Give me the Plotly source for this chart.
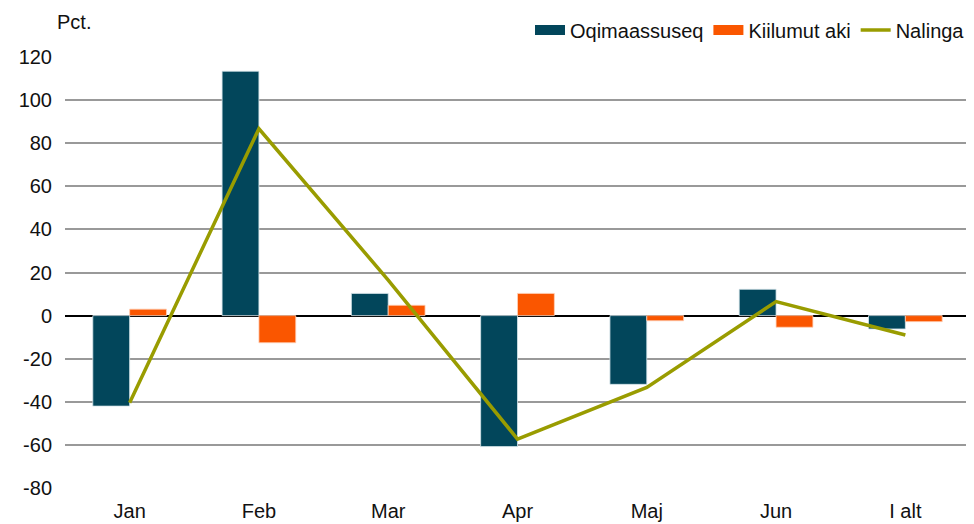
import plotly.graph_objects as go

categories = ["Jan", "Feb", "Mar", "Apr", "Maj", "Jun", "I alt"]
oqimaassuseq = [-42.0, 113.4, 10.3, -60.8, -31.9, 12.2, -6.2]
kiilumut_aki = [3.0, -12.6, 4.8, 10.3, -2.4, -5.4, -2.8]
nalinga = [-40.4, 86.7, 16.5, -57.3, -33.3, 6.5, -9.0]
y_ticks = [-80, -60, -40, -20, 0, 20, 40, 60, 80, 100, 120]
y_tick_text = ["-80", "-60", "-40", "-20", "0", "20", "40", "60", "80", "100", "120"]

c_dark = "#02465B"
c_orange = "#FA5600"
c_olive = "#999C00"

fig = go.Figure()
fig.add_trace(go.Bar(x=categories, y=oqimaassuseq, name="Oqimaassuseq",
                     marker=dict(color=c_dark, line=dict(color="#D6E4EA", width=0.8)),
                     showlegend=False))
fig.add_trace(go.Bar(x=categories, y=kiilumut_aki, name="Kiilumut aki",
                     marker=dict(color=c_orange, line=dict(color="#FFD0B8", width=0.8)),
                     showlegend=False))
fig.add_trace(go.Scatter(x=categories, y=nalinga, name="Nalinga", mode="lines",
                         line=dict(color=c_olive, width=3.5), showlegend=False))
# legend entries
fig.add_trace(go.Scatter(x=[None], y=[None], mode="lines", name="Oqimaassuseq",
                         line=dict(color=c_dark, width=12)))
fig.add_trace(go.Scatter(x=[None], y=[None], mode="lines", name="Kiilumut aki",
                         line=dict(color=c_orange, width=12)))
fig.add_trace(go.Scatter(x=[None], y=[None], mode="lines", name="Nalinga",
                         line=dict(color=c_olive, width=3.5)))

# page has an 8px body offset
OFF = 8
W, H = 974 - OFF, 524 - OFF
L, R, T, B = 65 - OFF, 4, 57 - OFF, 36
pw, ph = W - L - R, H - T - B

fig.update_layout(
    width=W, height=H,
    margin=dict(l=L, r=R, t=T, b=B, autoexpand=False),
    paper_bgcolor="white", plot_bgcolor="white",
    font=dict(family="Liberation Sans, Arial, sans-serif", size=20, color="#111111"),
    barmode="group", bargap=0.43, bargroupgap=0,
    legend=dict(orientation="h", x=1.0, xanchor="right", y=(H - B - 22) / ph,
                yanchor="middle", font=dict(size=20), itemwidth=30,
                bgcolor="rgba(0,0,0,0)", tracegroupgap=0),
    xaxis=dict(showgrid=False, showline=False, ticks="", tickfont=dict(size=20),
               zeroline=False, automargin=False, ticklabelstandoff=9),
    yaxis=dict(range=[-80, 120], tickvals=y_ticks, ticktext=y_tick_text,
               showgrid=True, gridcolor="#999999",
               gridwidth=1.5, zeroline=True, zerolinecolor="#000000", zerolinewidth=2,
               showline=False, ticks="", tickfont=dict(size=20), ticklabelstandoff=12,
               automargin=False),
    annotations=[dict(text="Pct.", x=(55 - 65) / pw, y=(H - B - 14) / ph,
                      xref="paper", yref="paper", showarrow=False,
                      font=dict(size=20), xanchor="left", yanchor="middle")],
)

fig.write_html("out.html")
